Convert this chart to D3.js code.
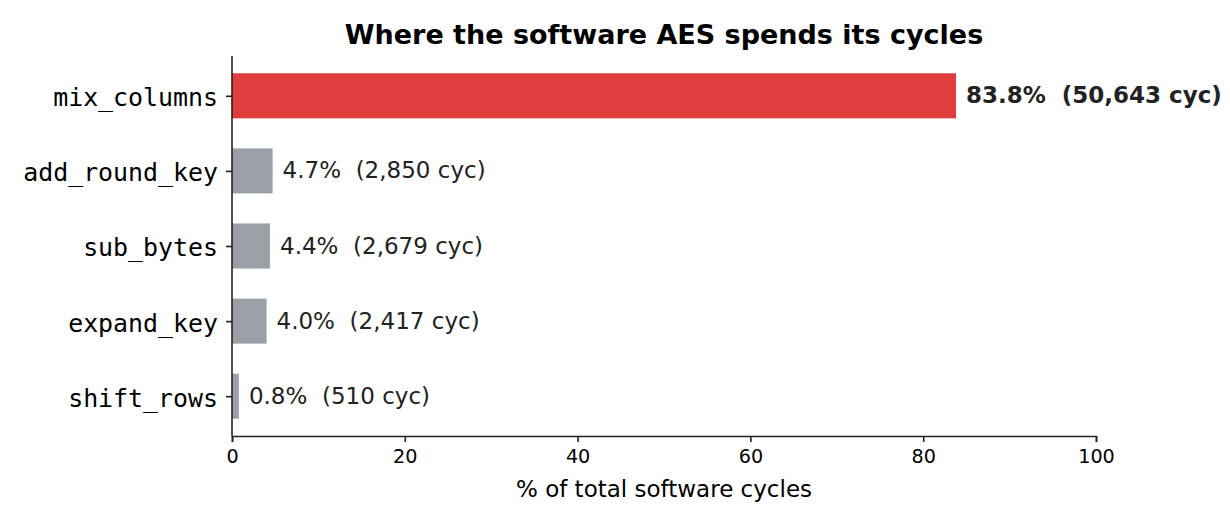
<!DOCTYPE html>
<html>
<head>
<meta charset="utf-8">
<script src="https://cdn.jsdelivr.net/npm/d3@7"></script>
<style>
  body { margin: 0; background: #fff; }
  svg { display: block; }
</style>
</head>
<body>
<div id="chart"></div>
<script>
// data
const functions = ['mix_columns', 'add_round_key', 'sub_bytes', 'expand_key', 'shift_rows'];
const percents = [83.8, 4.7, 4.4, 4.0, 0.8];
const cycles = [50643, 2850, 2679, 2417, 510];
const xTicks = [0, 20, 40, 60, 80, 100];

const W = 1230, H = 525;
const margin = { top: 56, right: 134, bottom: 89, left: 232 };
const width = W - margin.left - margin.right;
const height = H - margin.top - margin.bottom;

const svg = d3.select('#chart').append('svg')
  .attr('width', W).attr('height', H);

const g = svg.append('g')
  .attr('transform', `translate(${margin.left},${margin.top})`);

const rows = functions.map((f, i) => ({ name: f, pct: percents[i], cyc: cycles[i], i }));

const x = d3.scaleLinear().domain([0, 100]).range([0, width]);
// matplotlib-like: bars of height 0.6 on integer positions, 5% margin
const barH = 0.6;
const lo = -barH / 2, hi = functions.length - 1 + barH / 2;
const pad = (hi - lo) * 0.05;
const y = d3.scaleLinear().domain([lo - pad, hi + pad]).range([0, height]);

const fmt = d3.format(',');

g.selectAll('rect.bar')
  .data(rows)
  .join('rect')
  .attr('class', 'bar')
  .attr('x', x(0))
  .attr('y', d => y(d.i - barH / 2))
  .attr('width', d => x(d.pct) - x(0))
  .attr('height', d => y(d.i + barH / 2) - y(d.i - barH / 2))
  .attr('fill', d => d.i === 0 ? '#e03d3d' : '#9aa0a6');

g.selectAll('text.val')
  .data(rows)
  .join('text')
  .attr('class', 'val')
  .attr('x', d => x(d.pct) + 10)
  .attr('y', d => y(d.i))
  .attr('dy', '0.33em')
  .style('font-family', 'DejaVu Sans')
  .style('font-size', '23px')
  .style('font-weight', d => d.i === 0 ? 'bold' : 'normal')
  .style('fill', '#222')
  .text(d => `${d.pct.toFixed(1)}%\u00a0\u00a0(${fmt(d.cyc)} cyc)`);

// axes
const xAxis = g.append('g')
  .attr('transform', `translate(0,${height})`)
  .call(d3.axisBottom(x).tickValues(xTicks).tickSize(6).tickPadding(7));
xAxis.select('.domain').attr('stroke', '#222').attr('stroke-width', 1.6);
xAxis.selectAll('.tick line').attr('stroke', '#222').attr('stroke-width', 1.6);
xAxis.selectAll('.tick text')
  .style('font-family', 'DejaVu Sans').style('font-size', '19.2px').style('fill', '#000');

const yAxis = g.append('g')
  .call(d3.axisLeft(y).tickValues(d3.range(functions.length))
    .tickFormat(i => functions[i]).tickSize(6).tickPadding(8));
yAxis.select('.domain').attr('stroke', '#222').attr('stroke-width', 1.6)
  .attr('d', `M0,0V${height}`);
yAxis.selectAll('.tick line').attr('stroke', '#222').attr('stroke-width', 1.6);
yAxis.selectAll('.tick text')
  .attr('dy', '0.4em')
  .style('font-family', 'DejaVu Sans Mono').style('font-size', '24.9px').style('fill', '#000');

// axis label and title
svg.append('text')
  .attr('x', margin.left + width / 2).attr('y', 497)
  .attr('text-anchor', 'middle')
  .style('font-family', 'DejaVu Sans').style('font-size', '23px')
  .text('% of total software cycles');

svg.append('text')
  .attr('x', margin.left + width / 2).attr('y', 44)
  .attr('text-anchor', 'middle')
  .style('font-family', 'DejaVu Sans').style('font-size', '27px').style('font-weight', 'bold')
  .text('Where the software AES spends its cycles');
</script>
</body>
</html>
